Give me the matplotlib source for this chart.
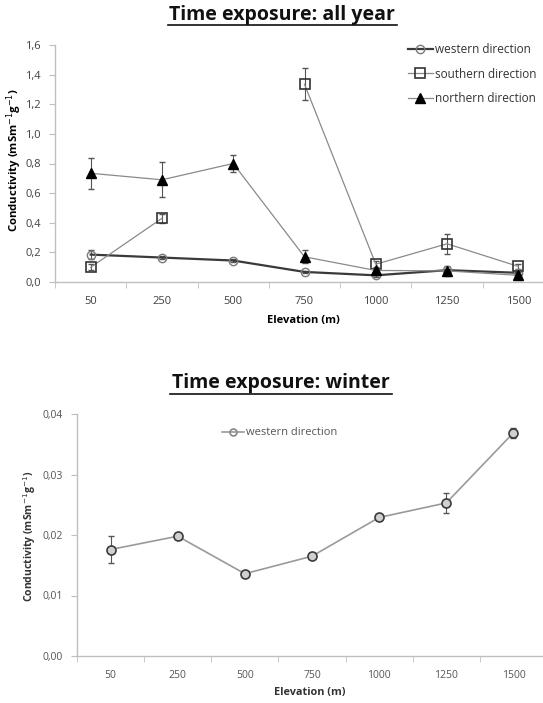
import matplotlib
matplotlib.use("Agg")
import matplotlib.pyplot as plt
from matplotlib.ticker import FixedLocator, FuncFormatter
import numpy as np

plt.rcParams['font.family'] = ['Open Sans', 'DejaVu Sans']

# Data
elevations = ["50", "250", "500", "750", "1000", "1250", "1500"]

western = [0.185, 0.165, 0.145, 0.068, 0.045, 0.080, 0.062]
western_err = [0.030, 0.012, 0.010, 0.008, 0.008, 0.010, 0.008]

# no southern sample at 500 m
southern = [0.099, 0.430, np.nan, 1.335, 0.120, 0.258, 0.105]
southern_err = [0.020, 0.030, np.nan, 0.108, 0.020, 0.068, 0.015]

northern = [0.734, 0.690, 0.800, 0.170, 0.078, 0.075, 0.045]
northern_err = [0.106, 0.117, 0.060, 0.045, 0.015, 0.035, 0.010]

winter_western = [0.0176, 0.0198, 0.0136, 0.0165, 0.0229, 0.0253, 0.0369]
winter_err = [0.0023, 0.0003, 0.0003, 0.0003, 0.0004, 0.0016, 0.0008]

W, H = 543, 703
fig = plt.figure(figsize=(W / 100, H / 100), dpi=100)

AXIS_GREY = "#bfbfbf"
TEXT_GREY = "#404040"


def fx(px):
    return px / W


def fy(py):
    return 1 - py / H


def comma(fmt):
    return FuncFormatter(lambda v, p: (fmt % v).replace(".", ","))


def style_axes(ax, n, yticks, fmt, tick_size):
    for s in ("top", "right"):
        ax.spines[s].set_visible(False)
    for s in ("left", "bottom"):
        ax.spines[s].set_color(AXIS_GREY)
        ax.spines[s].set_linewidth(1.0)
    ax.set_xlim(-0.5, n - 0.5)
    ax.set_xticks(range(n))
    ax.set_xticklabels(elevations)
    ax.xaxis.set_minor_locator(FixedLocator(np.arange(-0.5, n, 1.0)))
    ax.tick_params(axis="x", which="major", length=0, pad=10,
                   labelsize=tick_size, labelcolor=TEXT_GREY)
    ax.tick_params(axis="x", which="minor", length=4, color=AXIS_GREY,
                   direction="out")
    ax.set_yticks(yticks)
    ax.yaxis.set_major_formatter(comma(fmt))
    ax.tick_params(axis="y", length=4, color=AXIS_GREY, direction="out",
                   labelsize=tick_size, labelcolor=TEXT_GREY, pad=6)


def ylabel(xc, yc, size, color):
    fig.text(fx(xc), fy(yc), "Conductivity (mSm$^{-1}$g$^{-1}$)",
             rotation=90, ha="center", va="center", fontsize=size,
             fontweight="bold", color=color)


def title(xc, yc, text, x0, x1, yu):
    fig.text(fx(xc), fy(yc), text, ha="center", va="center",
             fontsize=14, fontweight="bold", color="#111111")
    fig.add_artist(plt.Line2D([fx(x0), fx(x1)], [fy(yu), fy(yu)],
                              color="#111111", lw=1.2))


x = np.arange(len(elevations))
EB = dict(fmt="none", ecolor="#555555", elinewidth=0.8, capsize=2.5)

# ---- all year panel ----
ax1 = fig.add_axes([fx(55), fy(282), fx(554) - fx(55), fy(45) - fy(282)])

ax1.plot(x, western, color="#3a3a3a", lw=1.6, marker="o", ms=6,
         mfc="none", mec="#7a7a7a", mew=1.0, label="western direction",
         zorder=3)
ax1.errorbar(x, western, yerr=western_err, zorder=2, **EB)

ax1.plot(x, southern, color="#8a8a8a", lw=0.9, marker="s", ms=7,
         mfc="none", mec="#333333", mew=1.2, label="southern direction",
         zorder=3)
ax1.errorbar(x, southern, yerr=southern_err, zorder=2, **EB)

ax1.plot(x, northern, color="#8a8a8a", lw=0.9, marker="^", ms=7,
         mfc="black", mec="black", label="northern direction", zorder=4)
ax1.errorbar(x, northern, yerr=northern_err, zorder=2, **EB)

ax1.set_ylim(0, 1.6)
style_axes(ax1, len(elevations), np.arange(0, 1.61, 0.2), "%.1f", 8)
ylabel(14, 160, 8.2, "black")
fig.text(fx(303), fy(320), "Elevation (m)", ha="center", va="center",
         fontsize=8, fontweight="bold", color="black")

leg1 = ax1.legend(loc="center left", bbox_to_anchor=(fx(408), fy(74)),
                  bbox_transform=fig.transFigure, borderpad=0,
                  borderaxespad=0, frameon=False, fontsize=8.5,
                  handlelength=2.1, handletextpad=0.2, labelspacing=0.95)
for t in leg1.get_texts():
    t.set_color("#333333")

title(282, 15, "Time exposure: all year", 168, 397, 25)

# ---- winter panel ----
ax2 = fig.add_axes([fx(77), fy(656), fx(547) - fx(77), fy(414) - fy(656)])
ax2.plot(x, winter_western, color="#9a9a9a", lw=1.2, marker="o", ms=6.5,
         mfc="#d0d0d0", mec="#3a3a3a", mew=1.2, label="western direction",
         zorder=3)
ax2.errorbar(x, winter_western, yerr=winter_err, zorder=2, **EB)
ax2.set_ylim(0, 0.04)
style_axes(ax2, len(elevations), np.arange(0, 0.0401, 0.01), "%.2f", 7.5)
ax2.tick_params(axis="x", which="major", labelcolor="#555555")
ax2.tick_params(axis="y", labelcolor="#555555")
ylabel(30, 536, 7.5, "#333333")
fig.text(fx(310), fy(693), "Elevation (m)", ha="center", va="center",
         fontsize=7.8, fontweight="bold", color="#333333")

leg2 = ax2.legend(loc="center left", bbox_to_anchor=(fx(222), fy(433)),
                  bbox_transform=fig.transFigure, borderpad=0,
                  borderaxespad=0, frameon=False, fontsize=8,
                  handlelength=2.0, handletextpad=0.2)
for t in leg2.get_texts():
    t.set_color("#555555")
h = leg2.legend_handles[0]
h.set_markersize(5)
h.set_markerfacecolor("none")
h.set_markeredgecolor("#888888")

title(281, 383, "Time exposure: winter", 170, 392, 394)

fig.savefig("out.png", dpi=100, facecolor="white")
